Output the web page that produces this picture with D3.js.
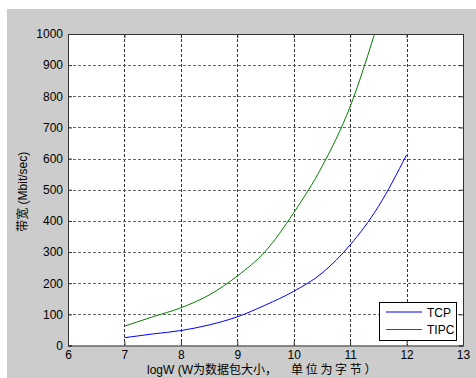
<!DOCTYPE html>
<html><head><meta charset="utf-8">
<script src="https://cdn.jsdelivr.net/npm/d3@7"></script>
<style>
html,body{margin:0;padding:0;background:#fff;}
text{font-family:"Liberation Sans",Arial,"Noto Sans CJK SC",sans-serif;}
</style></head>
<body><svg id="c" width="476" height="378"></svg>
<script>
const xTicks = [6,7,8,9,10,11,12,13];
const yTicks = [0,100,200,300,400,500,600,700,800,900,1000];
const logW = [7,7.5,8,8.5,9,9.5,10,10.5,11,11.5,12];
const tcp  = [25,37,48,66,92,130,174,232,323,446,612];
const tipcX = [7,7.5,8,8.5,9,9.5,10,10.5,11,11.5];
const tipc = [62,92,121,162,223,303,426,574,767,1040];
const seriesNames = ["TCP","TIPC"];
const colors = ["#0000ff","#008000"];
const xLabelA = "logW (W为数据包大小，";
const xLabelB = "单位为字节）";
const yLabel = "带宽 (Mbit/sec)";

const svg = d3.select("#c");
svg.append("rect").attr("x",7).attr("y",9).attr("width",469).attr("height",369).attr("fill","#cccccc");
const L=68, R=463, T=34, B=345.5;
const x = d3.scaleLinear().domain([6,13]).range([L,R]);
const y = d3.scaleLinear().domain([0,1000]).range([B,T]);
svg.append("rect").attr("x",L).attr("y",T).attr("width",R-L).attr("height",B-T).attr("fill","#fff");

// grid
const g = svg.append("g");
g.selectAll(".vg").data(xTicks.slice(1,-1)).enter().append("line")
 .attr("x1",d=>Math.round(x(d))+0.5).attr("x2",d=>Math.round(x(d))+0.5)
 .attr("y1",T).attr("y2",B).attr("stroke","#333").attr("stroke-dasharray","3,2");
g.selectAll(".hg").data(yTicks.slice(1,-1)).enter().append("line")
 .attr("y1",d=>Math.round(y(d))+0.5).attr("y2",d=>Math.round(y(d))+0.5)
 .attr("x1",L).attr("x2",R).attr("stroke","#666").attr("stroke-dasharray","3,2");

// clip
svg.append("clipPath").attr("id","cp").append("rect").attr("x",L).attr("y",T).attr("width",R-L).attr("height",B-T);
const line = d3.line().x(d=>x(d[0])).y(d=>y(d[1])).curve(d3.curveMonotoneX);
svg.append("path").datum(logW.map((v,i)=>[v,tcp[i]])).attr("d",line)
 .attr("fill","none").attr("stroke",colors[0]).attr("stroke-width",1).attr("clip-path","url(#cp)");
svg.append("path").datum(tipcX.map((v,i)=>[v,tipc[i]])).attr("d",line)
 .attr("fill","none").attr("stroke",colors[1]).attr("stroke-width",1).attr("clip-path","url(#cp)");

// axes
const ax = svg.append("g").attr("transform",`translate(0,${B})`)
 .call(d3.axisBottom(x).tickValues(xTicks).tickSize(-4).tickPadding(5).tickFormat(d3.format("d")));
const axT = svg.append("g").attr("transform",`translate(0,${T})`)
 .call(d3.axisTop(x).tickValues(xTicks).tickSize(-4).tickFormat(""));
const ay = svg.append("g").attr("transform",`translate(${L},0)`)
 .call(d3.axisLeft(y).tickValues(yTicks).tickSize(-4).tickPadding(5).tickFormat(d3.format("d")));
const ayR = svg.append("g").attr("transform",`translate(${R},0)`)
 .call(d3.axisRight(y).tickValues(yTicks).tickSize(-4).tickFormat(""));
[ax,axT,ay,ayR].forEach(a=>{
  a.select(".domain").attr("stroke","#333");
  a.selectAll(".tick line").attr("stroke","#333");
  a.selectAll("text").attr("font-size",12).attr("fill","#000")
   .attr("font-family",'"Liberation Sans",Arial,sans-serif');
});

// labels
svg.append("text").attr("x",147).attr("y",374).attr("font-size",12).text(xLabelA);
svg.append("text").attr("x",291).attr("y",374).attr("font-size",12)
 .attr("letter-spacing",2.7).text(xLabelB);
svg.append("text").attr("transform",`translate(27,${(T+B)/2+2}) rotate(-90)`)
 .attr("text-anchor","middle").attr("font-size",12).text(yLabel);

// legend
const lg = svg.append("g");
lg.append("rect").attr("x",379.5).attr("y",302.5).attr("width",77).attr("height",38)
 .attr("fill","#fff").attr("stroke","#000");
seriesNames.forEach((n,i)=>{
  const yy = 312 + i*17.5;
  lg.append("line").attr("x1",386).attr("x2",422).attr("y1",yy).attr("y2",yy)
   .attr("stroke",colors[i]).attr("stroke-width",1);
  lg.append("text").attr("x",427).attr("y",yy+4.5).attr("font-size",12).text(n);
});
</script></body></html>
